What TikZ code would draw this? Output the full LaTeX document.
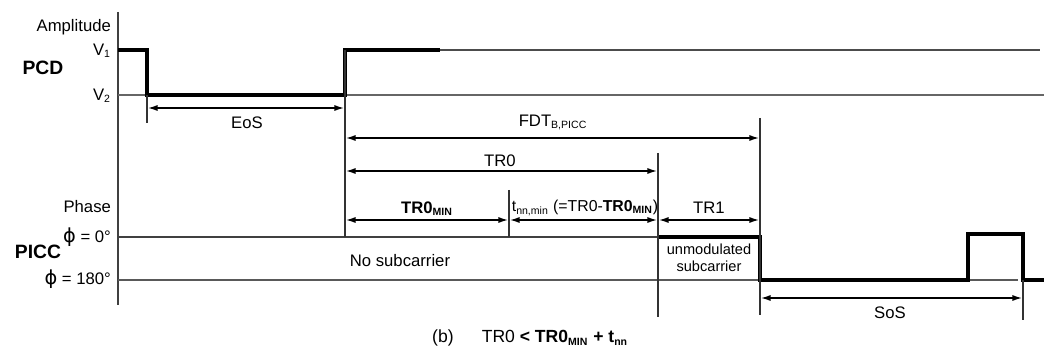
\documentclass[tikz,border=0pt]{standalone}
\usepackage{fontspec}
\setmainfont{Liberation Sans}
\newfontfamily\phifont{DejaVu Sans}
\usetikzlibrary{arrows.meta}
\tikzset{
  lbl/.style={font=\fontsize{9.5}{11}\selectfont,inner sep=1pt},
  small/.style={font=\fontsize{8.3}{9.5}\selectfont,inner sep=1pt,align=center},
  big/.style={font=\fontsize{11}{13}\selectfont\bfseries,inner sep=1pt},
  dim/.style={{Latex[length=5.5pt,width=3.5pt]}-{Latex[length=5.5pt,width=3.5pt]},line width=0.8pt},
  sig/.style={line width=2.1pt},
  tmark/.style={line width=0.8pt,black!80}
}
\newcommand{\lsub}[1]{\textsubscript{\fontsize{6}{7}\selectfont #1}}
\newcommand{\ph}{{\phifont\fontsize{11}{12}\selectfont ϕ}}
\begin{document}
\begin{tikzpicture}[x=0.02cm,y=-0.02cm]
  \useasboundingbox (0,0) rectangle (1044,354);

  %axis and levels
  \draw[line width=1pt,black!75] (118,12) -- (118,305);
  \draw[line width=0.6pt,black!60] (118,95) -- (1044,95);
  \draw[line width=0.9pt,black!70] (440,50) -- (1040,50);
  \draw[line width=0.7pt,black!75] (118,237) -- (658,237);
  \draw[line width=0.7pt,black!65] (118,280) -- (1018,280);

  %signals
  \draw[sig] (118,50) -- (147,50) -- (147,95) -- (345,95) -- (345,50) -- (440,50);
  \draw[sig] (658,237) -- (760,237) -- (760,280) -- (968,280) -- (968,234)
     -- (1023,234) -- (1023,280) -- (1044,280);

  %time marks
  \draw[tmark] (147,95) -- (147,123);
  \draw[tmark] (345,50) -- (345,237);
  \draw[tmark] (509,190) -- (509,237);
  \draw[tmark] (658,153) -- (658,317);
  \draw[tmark] (760,118) -- (760,315);
  \draw[tmark] (1023,280) -- (1023,320);

  %intervals
  \draw[dim] (148,108) -- (344,108);
  \draw[dim] (346,138) -- (759,138);
  \draw[dim] (346,171) -- (657,171);
  \draw[dim] (346,220) -- (508,220);
  \draw[dim] (510,220) -- (657,220);
  \draw[dim] (659,220) -- (759,220);
  \draw[dim] (761,298) -- (1022,298);

  %nodes
  \node[big] (pcd) at (43,68) {PCD};
  \node[big] (picc) at (38,252) {PICC};
  \node[lbl,anchor=east] (amp) at (113,27) {Amplitude};
  \node[lbl,anchor=east] (v1) at (113,51) {V\lsub{1}};
  \node[lbl,anchor=east] (v2) at (113,96) {V\lsub{2}};
  \node[lbl,anchor=east] (phase) at (113,207) {Phase};
  \node[lbl,anchor=east] (ph0) at (113,237) {\ph\ = 0°};
  \node[lbl,anchor=east] (ph180) at (113,279) {\ph\ = 180°};

  \node[lbl] (eos) at (247,123) {EoS};
  \node[lbl] (fdt) at (553,122) {FDT\lsub{B,PICC}};
  \node[lbl] (tr0) at (500,161) {TR0};
  \node[lbl] (tr0min) at (427,209) {\textbf{TR0\lsub{MIN}}};
  \node[lbl,font=\fontsize{9}{11}\selectfont] (tnn) at (585,208) {t\lsub{nn,min} (=TR0-\textbf{TR0\lsub{MIN}})};
  \node[lbl] (tr1) at (709,208) {TR1};
  \node[lbl] (nosub) at (400,261) {No subcarrier};
  \node[small] (unmod) at (709,258) {unmodulated\\subcarrier};
  \node[lbl] (sos) at (890,313) {SoS};

  \node[font=\fontsize{10}{12}\selectfont,anchor=west] (cap) at (426,338)
     {(b)\hspace{1.6em}TR0 \textbf{< TR0\lsub{MIN} + t\lsub{nn}}};
\end{tikzpicture}
\end{document}
